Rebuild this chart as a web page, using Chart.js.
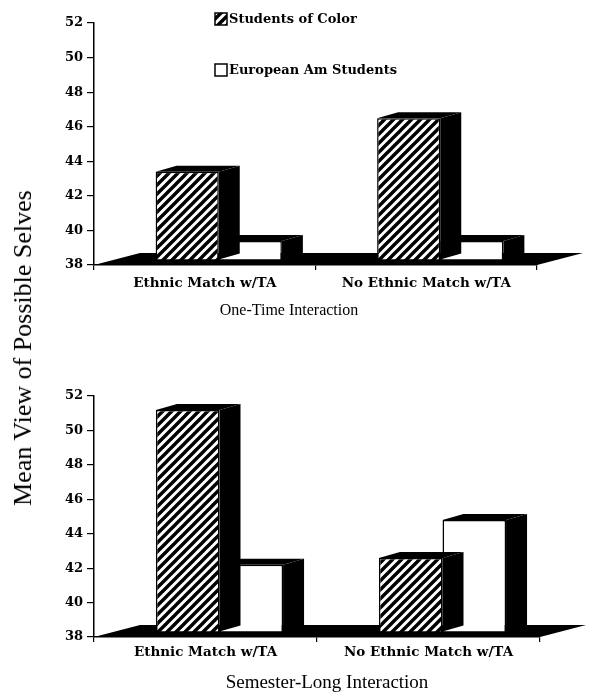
<!DOCTYPE html>
<html>
<head>
<meta charset="utf-8">
<script src="https://cdn.jsdelivr.net/npm/chart.js@4.4.1/dist/chart.umd.min.js"></script>
<style>
  html, body { margin: 0; padding: 0; background: #fff; }
  #wrap { position: relative; width: 593px; height: 698px; overflow: hidden; }
  #c1 { position: absolute; left: 0; top: 0; }
  #c2 { position: absolute; left: 0; top: 340px; }
  #ytitle {
    position: absolute; left: 23px; top: 348px;
    transform: translate(-50%, -50%) rotate(-90deg);
    font: 26px "Liberation Serif", serif; color: #000; white-space: nowrap;
  }
</style>
</head>
<body>
<div id="wrap">
  <canvas id="c1" width="593" height="330"></canvas>
  <canvas id="c2" width="593" height="358"></canvas>
  <div id="ytitle">Mean View of Possible Selves</div>
</div>
<script>
// ---- data ----
const categories = ['Ethnic Match w/TA', 'No Ethnic Match w/TA'];
const seriesNames = ['Students of Color', 'European Am Students'];
const oneTimeColor = [43.1, 46.2];
const oneTimeEuro = [39.1, 39.1];
const semesterColor = [50.9, 42.3];
const semesterEuro = [41.9, 44.5];
const yTicks = [38, 40, 42, 44, 46, 48, 50, 52];
const panelTitles = ['One-Time Interaction', 'Semester-Long Interaction'];
const yFloor = 38;

// ---- styling ----
const tickFont = { family: 'DejaVu Serif', size: 13, weight: 'bold' };
const catFont = { family: 'DejaVu Serif', size: 13.5, weight: 'bold' };

// diagonal hatch tile
function makeHatch() {
  const t = document.createElement('canvas');
  t.width = 9; t.height = 9;
  const g = t.getContext('2d');
  g.fillStyle = '#fff'; g.fillRect(0, 0, 9, 9);
  g.strokeStyle = '#000'; g.lineWidth = 3.4; g.lineCap = 'square';
  g.beginPath();
  g.moveTo(-2, 11); g.lineTo(11, -2);
  g.moveTo(-2, 2); g.lineTo(2, -2);
  g.moveTo(7, 11); g.lineTo(11, 7);
  g.stroke();
  return g.createPattern(t, 'repeat');
}
const hatch = makeHatch();

// 3-D extrusion of the bars and the black floor under them
const barDepth = { dx: 21, dy: 6 };
const barShift = { dx: 14, dy: 5 };
const floorDepth = { dx: 46, dy: 12 };

const solid3d = {
  id: 'solid3d',
  beforeDatasetsDraw(chart) {
    const { ctx, chartArea: a } = chart;
    const y0 = chart.scales.y.getPixelForValue(yFloor);
    ctx.save();
    ctx.fillStyle = '#000';
    ctx.beginPath();
    ctx.moveTo(a.left, y0);
    ctx.lineTo(a.right, y0);
    ctx.lineTo(a.right + floorDepth.dx, y0 - floorDepth.dy);
    ctx.lineTo(a.left + floorDepth.dx, y0 - floorDepth.dy);
    ctx.closePath();
    ctx.fill();
    ctx.restore();
  },
  beforeDatasetDraw(chart, args) {
    const ctx = chart.ctx;
    ctx.save();
    ctx.translate(barShift.dx, -barShift.dy);
    ctx.fillStyle = '#000';
    args.meta.data.forEach(bar => {
      const p = bar.getProps(['x', 'y', 'base', 'width'], true);
      const l = p.x - p.width / 2, r = p.x + p.width / 2;
      const t = p.y, b = p.base;
      // side face
      ctx.beginPath();
      ctx.moveTo(r, t); ctx.lineTo(r + barDepth.dx, t - barDepth.dy);
      ctx.lineTo(r + barDepth.dx, b - barDepth.dy); ctx.lineTo(r, b);
      ctx.closePath(); ctx.fill();
      // top face
      ctx.beginPath();
      ctx.moveTo(l, t); ctx.lineTo(l + barDepth.dx, t - barDepth.dy);
      ctx.lineTo(r + barDepth.dx, t - barDepth.dy); ctx.lineTo(r, t);
      ctx.closePath(); ctx.fill();
    });
  },
  afterDatasetDraw(chart) {
    chart.ctx.restore();
  }
};

// panel caption under the category labels
const caption = {
  id: 'caption',
  afterDraw(chart, args, opts) {
    const ctx = chart.ctx;
    ctx.save();
    ctx.fillStyle = '#000';
    ctx.font = opts.size + 'px "Liberation Serif"';
    ctx.textAlign = 'center';
    ctx.textBaseline = 'middle';
    ctx.fillText(opts.text, opts.x, opts.y);
    ctx.restore();
  }
};

// stacked key in the upper panel
const key = {
  id: 'key',
  afterDraw(chart, args, opts) {
    if (!opts.show) return;
    const ctx = chart.ctx;
    ctx.save();
    ctx.font = 'bold 13px "DejaVu Serif"';
    ctx.textBaseline = 'middle';
    const rows = [{ y: 19, fill: hatch }, { y: 70, fill: '#fff' }];
    rows.forEach((row, i) => {
      ctx.fillStyle = row.fill;
      ctx.fillRect(215, row.y - 6, 12, 12);
      ctx.strokeStyle = '#000'; ctx.lineWidth = 1.5;
      ctx.strokeRect(215, row.y - 6, 12, 12);
      ctx.fillStyle = '#000';
      ctx.fillText(seriesNames[i], 229, row.y + 1);
    });
    ctx.restore();
  }
};

function makeChart(id, colorVals, euroVals, opts) {
  const ctx = document.getElementById(id);
  return new Chart(ctx, {
    type: 'bar',
    data: {
      labels: categories,
      datasets: [
        { label: seriesNames[0], data: colorVals, base: yFloor, backgroundColor: hatch,
          borderColor: '#000', borderWidth: 1.5, clip: false },
        { label: seriesNames[1], data: euroVals, base: yFloor, backgroundColor: '#fff',
          borderColor: '#000', borderWidth: 1.5, clip: false }
      ]
    },
    options: {
      responsive: false,
      animation: false,
      events: [],
      layout: { padding: { left: 0, right: 593 - opts.right, top: opts.top, bottom: 0 } },
      datasets: { bar: { categoryPercentage: 0.57, barPercentage: 1.0 } },
      scales: {
        y: {
          min: 38, max: 52,
          afterFit(s) { s.width = 94; },
          afterBuildTicks(s) { s.ticks = yTicks.map(v => ({ value: v })); },
          ticks: { color: '#000', font: tickFont, padding: 4 },
          grid: { drawOnChartArea: false, color: '#000', tickLength: 7, lineWidth: 1.2 },
          border: { color: '#000', width: 1.5 }
        },
        x: {
          afterFit(s) { s.height = opts.xHeight; },
          ticks: { color: '#000', font: catFont, padding: opts.labelPad, maxRotation: 0 },
          grid: { drawOnChartArea: false, color: '#000', tickLength: 5, lineWidth: 1.2, offset: true },
          border: { color: '#000', width: 1.5 }
        }
      },
      plugins: {
        legend: { display: false },
        tooltip: { enabled: false },
        caption: { text: opts.title, x: opts.titleX, y: opts.titleY, size: opts.titleSize },
        key: { show: opts.key }
      }
    },
    plugins: [solid3d, caption, key]
  });
}

makeChart('c1', oneTimeColor, oneTimeEuro, {
  right: 537, top: 23, xHeight: 330 - 265, labelPad: 5,
  title: panelTitles[0], titleX: 289, titleY: 311, titleSize: 16, key: true
});
makeChart('c2', semesterColor, semesterEuro, {
  right: 540, top: 56, xHeight: 358 - 297, labelPad: 2,
  title: panelTitles[1], titleX: 327, titleY: 343, titleSize: 19, key: false
});
</script>
</body>
</html>
